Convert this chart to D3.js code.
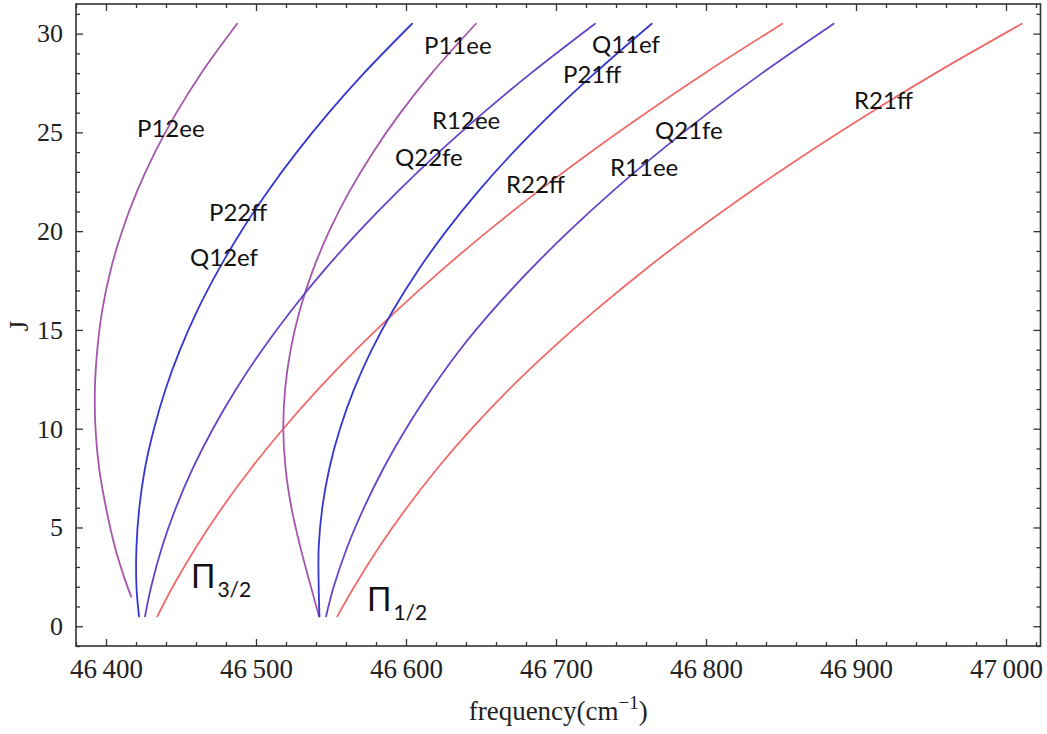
<!DOCTYPE html>
<html>
<head>
<meta charset="utf-8">
<script src="https://cdn.jsdelivr.net/npm/d3@7"></script>
<style>
  html, body { margin: 0; padding: 0; background: #fff; }
  svg { display: block; }
  .tick text { font-family: "Liberation Serif", "Times New Roman", serif; fill: #222; }
  .branch-label { font-family: Lato, "Noto Sans", sans-serif; font-size: 24px; fill: #111; }
  .omega-label { font-family: Lato, "Noto Sans", sans-serif; fill: #111; }
</style>
</head>
<body>
<svg id="chart" width="1047" height="734"></svg>
<script>
// Rotational quantum number J at which each branch frequency is listed
const jValues    = [0.5, 2, 4, 6, 8, 10, 12, 14, 16, 18, 20, 22, 24, 26, 28, 30.5];
const jValuesP12 = [1.5, 2.5, 4, 6, 8, 10, 12, 14, 16, 18, 20, 22, 24, 26, 28, 30.5];

// Line frequencies (cm^-1), Pi 3/2 sub-band
const freqP12ee = [46416.8, 46412.0, 46406.0, 46400.0, 46395.4, 46393.0, 46392.6, 46394.2, 46397.5, 46403.0, 46410.7, 46420.6, 46432.7, 46447.0, 46463.5, 46487.4];
const freqP22ff = [46422.0, 46420.3, 46420.3, 46422.2, 46426.0, 46432.0, 46439.7, 46449.4, 46461.0, 46474.7, 46490.2, 46507.7, 46527.2, 46548.6, 46572.0, 46604.0];
const freqQ22fe = [46426.0, 46430.1, 46437.3, 46446.6, 46457.9, 46471.3, 46486.7, 46504.2, 46523.7, 46545.2, 46568.8, 46594.4, 46622.0, 46651.7, 46683.4, 46726.0];
const freqR22ff = [46434.2, 46444.5, 46460.0, 46477.4, 46496.8, 46518.2, 46541.5, 46566.8, 46594.2, 46623.4, 46654.6, 46687.8, 46723.0, 46760.2, 46799.2, 46850.9];

// Line frequencies (cm^-1), Pi 1/2 sub-band
const freqP11ee = [46542.0, 46536.6, 46529.6, 46523.6, 46519.7, 46518.2, 46519.4, 46523.1, 46529.2, 46537.8, 46548.8, 46562.2, 46578.1, 46596.4, 46617.2, 46646.6];
const freqP21ff = [46542.3, 46541.8, 46541.8, 46544.2, 46548.9, 46556.0, 46565.4, 46577.2, 46591.4, 46607.9, 46626.8, 46648.0, 46671.6, 46697.6, 46725.9, 46763.8];
const freqR11ee = [46546.7, 46551.8, 46560.8, 46572.0, 46585.0, 46600.0, 46617.0, 46636.0, 46657.9, 46682.2, 46708.7, 46737.5, 46768.6, 46801.8, 46837.4, 46885.1];
const freqR21ff = [46554.2, 46565.5, 46582.0, 46600.5, 46621.0, 46643.8, 46668.9, 46696.5, 46726.4, 46758.5, 46792.8, 46829.5, 46868.4, 46909.6, 46953.0, 47010.5];

// Branch labels
const branchNames = ["P12ee", "P22ff", "Q12ef", "P11ee", "R12ee", "Q22fe", "Q11ef", "P21ff", "R22ff", "R11ee", "Q21fe", "R21ff"];

// Axis ticks
const freqMajorTicks = [46400, 46500, 46600, 46700, 46800, 46900, 47000];
const jMajorTicks = [0, 5, 10, 15, 20, 25, 30];

const colors = {
  magenta: "#a457ad",
  blue: "#3636d0",
  indigo: "#6444c6",
  red: "#f06a6a"
};

const series = [
  { j: jValues,    f: freqR22ff, color: colors.red },
  { j: jValues,    f: freqR21ff, color: colors.red },
  { j: jValuesP12, f: freqP12ee, color: colors.magenta },
  { j: jValues,    f: freqP11ee, color: colors.magenta },
  { j: jValues,    f: freqQ22fe, color: colors.indigo },
  { j: jValues,    f: freqR11ee, color: colors.indigo },
  { j: jValues,    f: freqP22ff, color: colors.blue },
  { j: jValues,    f: freqP21ff, color: colors.blue }
];

const svg = d3.select("#chart");
const plot = { left: 76, right: 1040.5, top: 4, bottom: 646 };

const x = d3.scaleLinear().domain([46380, 47023]).range([plot.left, plot.right]);
const y = d3.scaleLinear().domain([-1.0, 31.5]).range([plot.bottom, plot.top]);

const freqMinorTicks = d3.range(46380, 47021, 20).filter(v => !freqMajorTicks.includes(v));
const jMinorTicks = d3.range(-1, 32, 1).filter(v => !jMajorTicks.includes(v));

const fmtFreq = d => {
  const s = String(d);
  return s.slice(0, 2) + "\u2009" + s.slice(2);
};

function styleAxis(g) {
  g.select(".domain").remove();
  g.selectAll(".tick line").attr("stroke", "#333").attr("stroke-width", 1.3);
}

// Bottom axis (ticks point inward)
svg.append("g")
  .attr("transform", `translate(0,${plot.bottom})`)
  .call(d3.axisBottom(x).tickValues(freqMajorTicks).tickSize(-7).tickPadding(12).tickFormat(fmtFreq))
  .call(styleAxis)
  .call(g => g.selectAll(".tick text").attr("font-size", 27).attr("dy", "0.75em"));
svg.append("g")
  .attr("transform", `translate(0,${plot.bottom})`)
  .call(d3.axisBottom(x).tickValues(freqMinorTicks).tickSize(-4).tickFormat(""))
  .call(styleAxis);

// Top mirror ticks
svg.append("g")
  .attr("transform", `translate(0,${plot.top})`)
  .call(d3.axisTop(x).tickValues(freqMajorTicks).tickSize(-7).tickFormat(""))
  .call(styleAxis);
svg.append("g")
  .attr("transform", `translate(0,${plot.top})`)
  .call(d3.axisTop(x).tickValues(freqMinorTicks).tickSize(-4).tickFormat(""))
  .call(styleAxis);

// Left axis
svg.append("g")
  .attr("transform", `translate(${plot.left},0)`)
  .call(d3.axisLeft(y).tickValues(jMajorTicks).tickSize(-7).tickPadding(13))
  .call(styleAxis)
  .call(g => g.selectAll(".tick text").attr("font-size", 26));
svg.append("g")
  .attr("transform", `translate(${plot.left},0)`)
  .call(d3.axisLeft(y).tickValues(jMinorTicks).tickSize(-4).tickFormat(""))
  .call(styleAxis);

// Right mirror ticks
svg.append("g")
  .attr("transform", `translate(${plot.right},0)`)
  .call(d3.axisRight(y).tickValues(jMajorTicks).tickSize(-7).tickFormat(""))
  .call(styleAxis);
svg.append("g")
  .attr("transform", `translate(${plot.right},0)`)
  .call(d3.axisRight(y).tickValues(jMinorTicks).tickSize(-4).tickFormat(""))
  .call(styleAxis);

// Frame
svg.append("rect")
  .attr("x", plot.left).attr("y", plot.top)
  .attr("width", plot.right - plot.left).attr("height", plot.bottom - plot.top)
  .attr("fill", "none").attr("stroke", "#333").attr("stroke-width", 1.6);

// Branch curves
const line = d3.line()
  .x(d => x(d[0]))
  .y(d => y(d[1]))
  .curve(d3.curveCatmullRom.alpha(0.5));

const curveLayer = svg.append("g");
series.forEach(s => {
  const pts = s.f.map((f, i) => [f, s.j[i]]);
  curveLayer.append("path")
    .attr("d", line(pts))
    .attr("fill", "none")
    .attr("stroke", s.color)
    .attr("stroke-width", 1.8)
    .attr("stroke-linecap", "round");
});

// Branch labels (left x, baseline y in pixels)
const labelPos = [
  [137, 137], [209, 221], [190, 266], [424, 54], [432, 129], [395, 166],
  [592, 53], [563, 83], [506, 193], [610, 176], [655, 139], [854, 109]
];
svg.append("g").selectAll("text")
  .data(branchNames)
  .join("text")
  .attr("class", "branch-label")
  .attr("x", (d, i) => labelPos[i][0])
  .attr("y", (d, i) => labelPos[i][1])
  .text(d => d);

// Sub-band labels
function omegaLabel(px, py, sub) {
  const t = svg.append("text").attr("class", "omega-label").attr("x", px).attr("y", py);
  t.append("tspan").attr("font-size", 32).text("\u03A0");
  t.append("tspan").attr("font-size", 21).attr("dx", 2).attr("dy", 9).text(sub);
}
omegaLabel(191, 588, "3/2");
omegaLabel(367, 611, "1/2");

// Axis titles
const xTitle = svg.append("text")
  .attr("x", (plot.left + plot.right) / 2)
  .attr("y", 720)
  .attr("text-anchor", "middle")
  .attr("font-family", "'Liberation Serif', 'Times New Roman', serif")
  .attr("font-size", 27)
  .attr("fill", "#222");
xTitle.append("tspan").text("frequency(cm");
xTitle.append("tspan").attr("font-size", 19).attr("dy", -11).text("\u22121");
xTitle.append("tspan").attr("dy", 11).text(")");

svg.append("text")
  .attr("transform", `translate(28,326) rotate(-90)`)
  .attr("text-anchor", "middle")
  .attr("font-family", "'Liberation Serif', 'Times New Roman', serif")
  .attr("font-size", 27)
  .attr("fill", "#222")
  .text("J");
</script>
</body>
</html>
